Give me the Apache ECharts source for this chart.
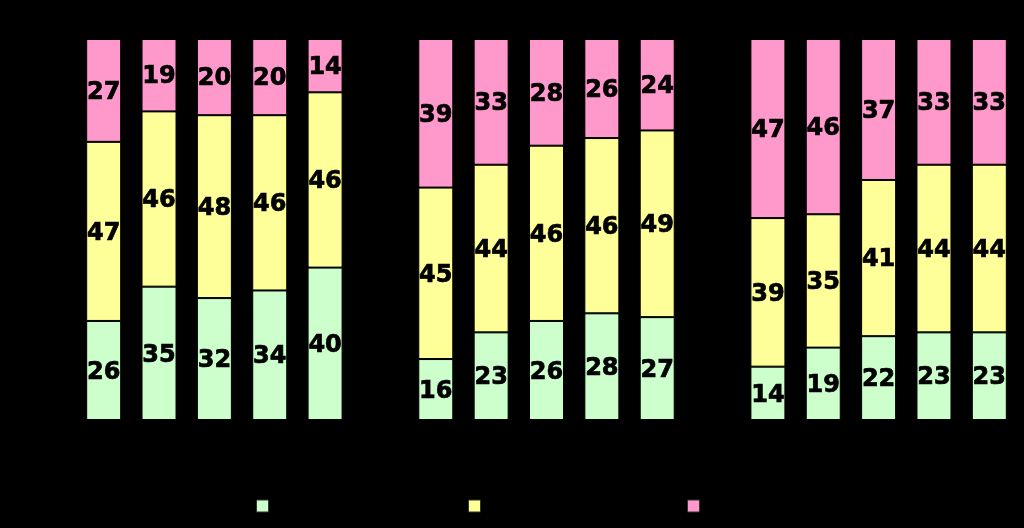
<!DOCTYPE html>
<html>
<head>
<meta charset="utf-8">
<script src="https://cdn.jsdelivr.net/npm/echarts@6/dist/echarts.min.js"></script>
<style>
  html, body { margin: 0; padding: 0; background: #000; }
  #chart { width: 1024px; height: 528px; }
</style>
</head>
<body>
<div id="chart"></div>
<script>
// 3 groups of 5 bars, a blank slot between groups
const categories = ['A1', 'A2', 'A3', 'A4', 'A5', '', 'B1', 'B2', 'B3', 'B4', 'B5', ' ', 'C1', 'C2', 'C3', 'C4', 'C5']
const seriesNames = ['Low', 'Medium', 'High']
const greenValues = [26, 35, 32, 34, 40, null, 16, 23, 26, 28, 27, null, 14, 19, 22, 23, 23]
const yellowValues = [47, 46, 48, 46, 46, null, 45, 44, 46, 46, 49, null, 39, 35, 41, 44, 44]
const pinkValues = [27, 19, 20, 20, 14, null, 39, 33, 28, 26, 24, null, 47, 46, 37, 33, 33]
const colors = ['#CCFFCC', '#FFFF99', '#FF99CC']

let chart = echarts.init(document.getElementById('chart'))

function makeSeries(name, data, color) {
  return {
    name: name,
    type: 'bar',
    stack: 'total',
    barWidth: 35,
    data: data,
    itemStyle: {
      color: color,
      borderColor: '#000',
      borderWidth: 1,
    },
    label: {
      show: true,
      position: 'inside',
      offset: [0, 2],
      color: '#000',
      fontFamily: 'DejaVu Sans',
      fontWeight: 'bold',
      fontSize: 24,
      // a thin outline in the same colour makes the digits as heavy as the reference
      textBorderColor: '#000',
      textBorderWidth: 0.7,
    },
  }
}

function makeLegend(name, left) {
  return {
    data: [name],
    left: left,
    top: 499,
    padding: 0,
    icon: 'rect',
    itemWidth: 12,
    itemHeight: 12,
    itemStyle: { borderColor: '#333', borderWidth: 1 },
    textStyle: { color: '#000', fontSize: 14 },
  }
}

let option = {
  backgroundColor: '#000',
  animation: false,
  legend: [
    makeLegend(seriesNames[0], 256),
    makeLegend(seriesNames[1], 468),
    makeLegend(seriesNames[2], 687),
  ],
  grid: {
    left: 76,
    right: 7,
    top: 39,
    bottom: 108,
  },
  xAxis: {
    type: 'category',
    data: categories,
    axisLine: { show: false },
    axisTick: { show: false },
    axisLabel: { color: '#000', fontSize: 14, margin: 14 },
  },
  yAxis: {
    type: 'value',
    min: 0,
    max: 100,
    show: false,
  },
  series: [
    makeSeries(seriesNames[0], greenValues, colors[0]),
    makeSeries(seriesNames[1], yellowValues, colors[1]),
    makeSeries(seriesNames[2], pinkValues, colors[2]),
  ],
}

chart.setOption(option)
</script>
</body>
</html>
